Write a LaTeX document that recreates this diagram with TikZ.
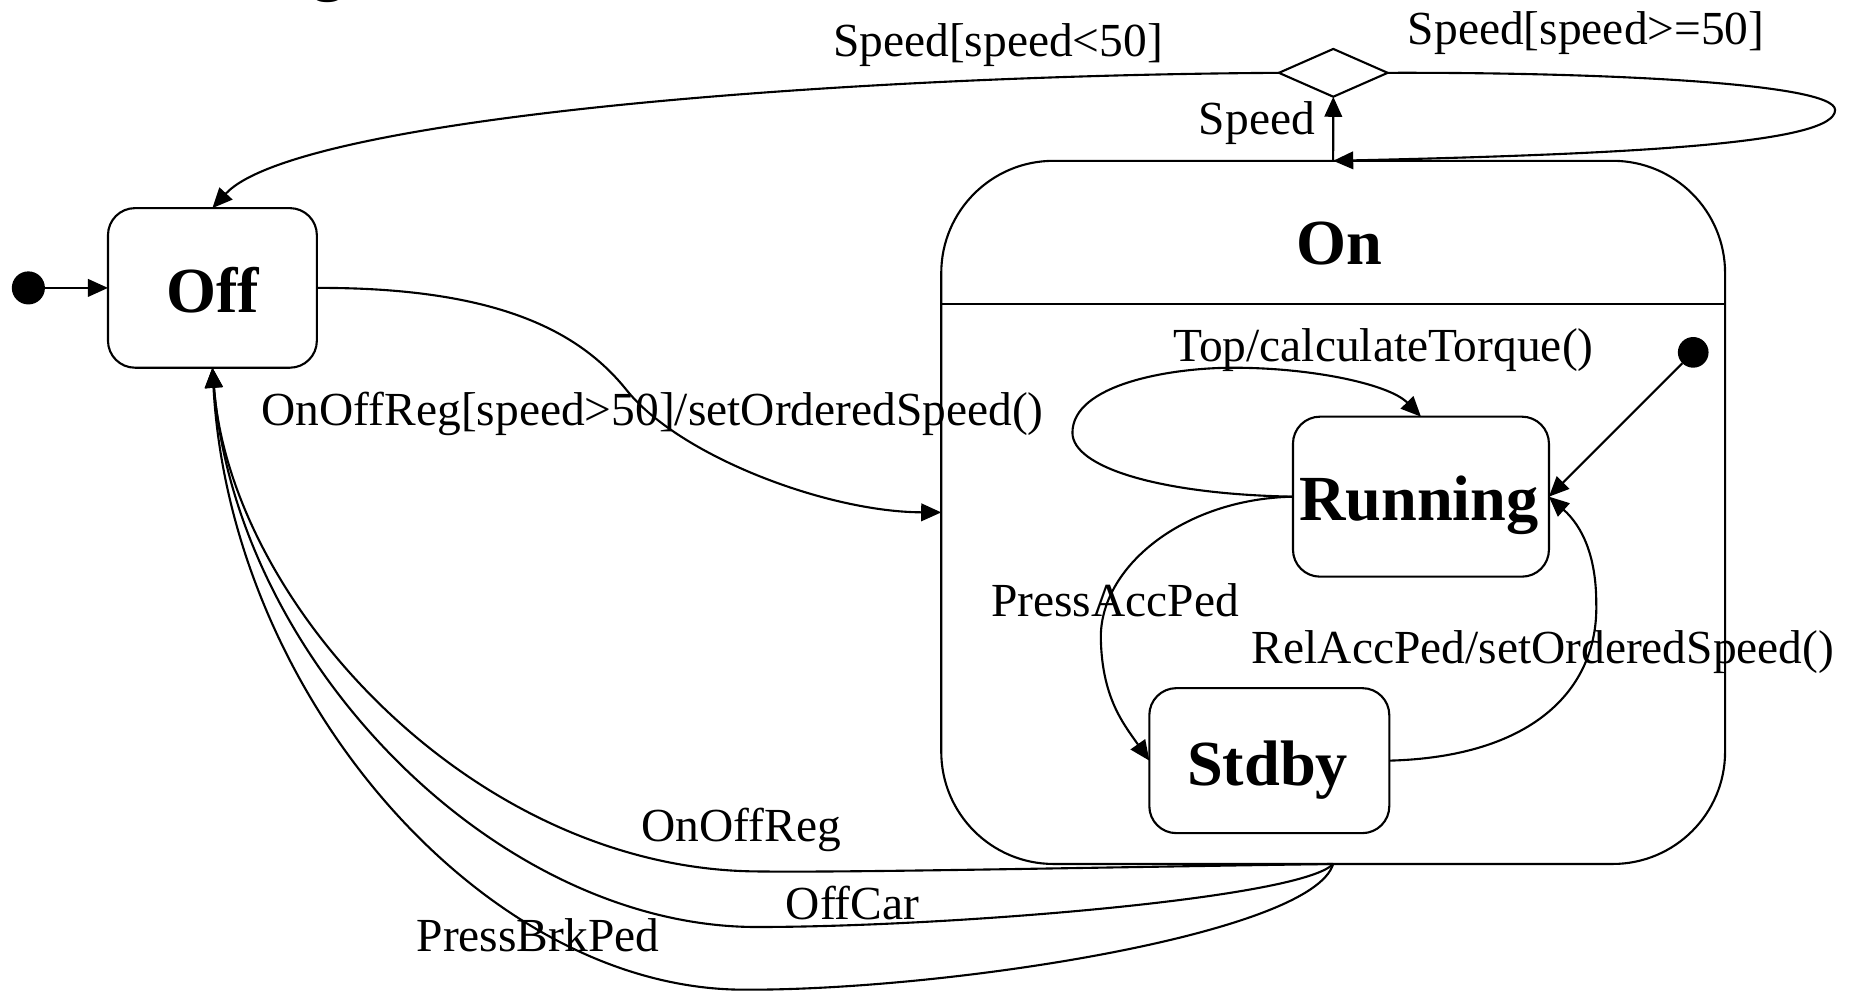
\documentclass[tikz,border=0pt]{standalone}
\usepackage{fontspec}
\setmainfont{Liberation Serif}
\usetikzlibrary{arrows.meta,shapes.geometric}
\begin{document}
\begin{tikzpicture}[x=0.011824cm, y=-0.011824cm, line width=0.6pt,
  every node/.style={inner sep=0pt, outer sep=0pt},
  statebox/.style={draw, rectangle, rounded corners=0.27cm},
  lbl/.style={font=\fontsize{13.5pt}{16pt}\selectfont, anchor=base},
  sname/.style={font=\fontsize{18.3pt}{22pt}\selectfont\bfseries, anchor=base},
  conn/.style={-{Triangle[length=5.7pt,width=5pt]}},
  blackdot/.style={circle, fill=black, draw=none}]
\useasboundingbox (0,0) rectangle (1568,839);

% title fragment (cut off at the top edge, as in the reference)
\node[sname] (ttl) at (278,-10) {g};

% states
\node[statebox, minimum width=2.089cm, minimum height=1.596cm] (Off) at (179.65,243.5) {};
\node[statebox, rounded corners=1.123cm, minimum width=7.839cm, minimum height=7.032cm] (On) at (1127.5,433.35) {};
\node[statebox, minimum width=2.560cm, minimum height=1.600cm] (Running) at (1201.75,420.05) {};
\node[statebox, minimum width=2.400cm, minimum height=1.450cm] (Stdby) at (1073.5,643.3) {};
\node[draw, diamond, minimum width=1.088cm, minimum height=0.478cm] (dec) at (1127.6,61.6) {};
\node[blackdot, minimum size=0.331cm] (init) at (24,243.5) {};
\node[blackdot, minimum size=0.307cm] (iinit) at (1432,298) {};

\coordinate (sepy) at (0,257);
\draw (On.west |- sepy) -- (On.east |- sepy);

% state names
\node[sname] (tOff) at (180,264) {Off};
\node[sname] (tOn) at (1133,224) {On};
\node[sname] (tRun) at (1200,440) {Running};
\node[sname] (tStd) at (1072,664) {Stdby};

% labels
\node[lbl] (l1) at (844,48) {Speed[speed<50]};
\node[lbl] (l2) at (1341.5,38) {Speed[speed>=50]};
\node[lbl] (l3) at (1063,114) {Speed};
\node[lbl] (l4) at (1170,306) {Top/calculateTorque()};
\node[lbl] (l5) at (552,360) {OnOffReg[speed>50]/setOrderedSpeed()};
\node[lbl] (l6) at (943,521) {PressAccPed};
\node[lbl] (l7) at (1305,561) {RelAccPed/setOrderedSpeed()};
\node[lbl] (l8) at (627,712) {OnOffReg};
\node[lbl] (l9) at (721,778) {OffCar};
\node[lbl] (l10) at (455,805) {PressBrkPed};

% connectors
\draw[conn] (init) -- (Off.west);
\draw[conn] (Off.east) .. controls (420,243) and (490,280) .. (530,330)
  .. controls (575,386) and (700,433) .. (On.west);
\draw[conn] (dec.west) .. controls (700,64) and (250,100) .. (Off.north);
\draw[conn] (On.north) -- (dec.south);
\draw[conn] (dec.east) .. controls (1350,61) and (1552,70) .. (1552,93)
  .. controls (1552,120) and (1400,130) .. (On.north);
\draw[conn] (Running.west) .. controls (980,418) and (907,395) .. (907,366)
  .. controls (907,325) and (990,311) .. (1043,311)
  .. controls (1110,311) and (1175,325) .. (Running.north);
\draw[conn] (iinit) -- (Running.east);
\draw[conn] (Running.west) .. controls (1000,422) and (930,480) .. (931,540)
  .. controls (932,590) and (950,612) .. (Stdby.west);
\draw[conn] (Stdby.east) .. controls (1300,640) and (1352,580) .. (1350,510)
  .. controls (1350,470) and (1338,445) .. (Running.east);
\draw[conn] (On.south) .. controls (900,734) and (720,738) .. (640,737)
  .. controls (400,735) and (195,510) .. (Off.south);
\draw[conn] (On.south) .. controls (1100,760) and (800,784) .. (640,784)
  .. controls (420,784) and (200,560) .. (Off.south);
\draw[conn] (On.south) .. controls (1110,790) and (800,838) .. (628,837)
  .. controls (410,836) and (195,590) .. (Off.south);
\end{tikzpicture}
\end{document}
